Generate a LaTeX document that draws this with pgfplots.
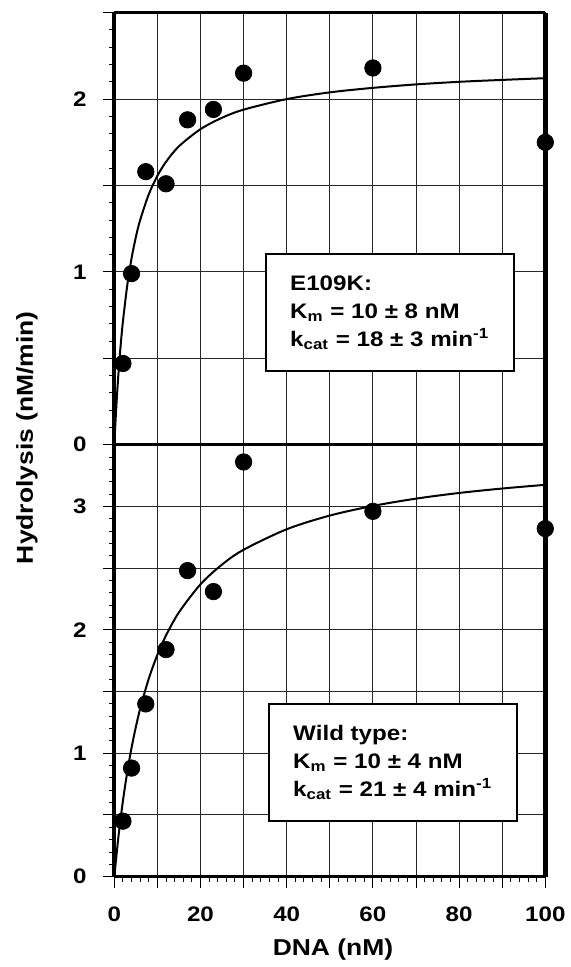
\documentclass[border=0pt]{standalone}
\usepackage{fontspec}
\setmainfont{Liberation Sans}[FakeStretch=1.15]
\usepackage{pgfplots}
\pgfplotsset{compat=1.18}

\pgfplotsset{
  panel/.style={
    width=215.5pt, height=216pt, scale only axis,
    xmin=0, xmax=100,
    xtick={0,10,...,100},
    grid=major,
    major grid style={black!85, line width=0.5pt},
    tick align=outside,
    ytick pos=left,
    xtick pos=bottom,
    major tick length=5.5pt,
    minor tick length=2.5pt,
    tick style={black, line width=0.5pt},
    minor y tick num=4,
    /pgf/number format/assume math mode=true,
    tick label style={font=\fontsize{10.5}{12}\selectfont\bfseries},
    xticklabel style={yshift=-6pt},
    yticklabel style={xshift=-4.8pt},
    clip=false,
  },
  fit/.style={black, line width=1pt, no marks, smooth},
  dots/.style={only marks, mark=*, mark size=4.1pt, black},
}
\tikzset{
  infobox/.style={draw, line width=1pt, fill=white, anchor=north west,
    minimum width=124pt, minimum height=58.5pt, align=left, inner sep=0pt,
    font=\fontsize{10.5}{14}\selectfont\bfseries},
}

\begin{document}
\begin{tikzpicture}
% E109K
\begin{axis}[panel, name=top,
    ymin=0, ymax=2.5,
    ytick={0,0.5,...,2.5}, yticklabels={0,,1,,2,},
    xticklabels={}, xmajorticks=false]
\addplot[fit] coordinates {
  (0,0) (0.5,0.235) (1,0.425) (1.5,0.582) (2,0.713) (3,0.921) (4,1.078)
  (5,1.201) (6,1.300) (8,1.449) (10,1.556) (12,1.637) (15,1.727)
  (20,1.826) (25,1.892) (30,1.939) (40,2.000) (50,2.039) (60,2.065)
  (70,2.085) (80,2.100) (90,2.111) (100,2.121)
};
\addplot[dots] coordinates {
  (2,0.47) (4,0.99) (7.3,1.58) (12,1.51) (17,1.88) (23,1.94)
  (30,2.15) (60,2.18) (100,1.75)
};
\node[infobox] at (axis cs:34.9,1.11)
  {E109K:\\K\textsubscript{m} = 10 ± 8 nM\\k\textsubscript{cat} = 18 ± 3 min\textsuperscript{-1}};
\end{axis}
% wild type
\begin{axis}[panel, name=bot, at={(top.south west)}, anchor=north west,
    ymin=0, ymax=3.5,
    ytick={0,0.5,...,3.5}, yticklabels={0,,1,,2,,3,},
    xticklabels={0,,20,,40,,60,,80,,100},
    minor x tick num=4]
\addplot[fit] coordinates {
  (0,0) (1,0.337) (2,0.614) (3,0.846) (4,1.044) (5,1.213) (6,1.361)
  (8,1.605) (10,1.798) (12,1.955) (15,2.142) (20,2.369) (25,2.529)
  (30,2.649) (40,2.815) (50,2.926) (60,3.004) (70,3.063) (80,3.109)
  (90,3.145) (100,3.175)
};
\addplot[dots] coordinates {
  (2,0.45) (4,0.88) (7.3,1.40) (12,1.84) (17,2.48) (23,2.31)
  (30,3.36) (60,2.96) (100,2.82)
};
\node[infobox] at (axis cs:35.6,1.41)
  {Wild type:\\K\textsubscript{m} = 10 ± 4 nM\\k\textsubscript{cat} = 21 ± 4 min\textsuperscript{-1}};
\end{axis}
% heavy frame
\draw[line width=1.3pt] (top.north west) -- (top.north east);
\draw[line width=1.6pt] (top.south west) -- (top.south east);
\draw[line width=1.6pt] (bot.south west) -- (bot.south east);
\draw[line width=2pt] (top.north west) -- (bot.south west);
\draw[line width=2.4pt] (top.north east) -- (bot.south east);
\node[rotate=90, anchor=base, font=\fontsize{11.5}{14}\selectfont\bfseries]
  at ([xshift=-40.65pt, yshift=3.5pt]top.south west) {Hydrolysis (nM/min)};
\node[anchor=base, font=\fontsize{11.5}{14}\selectfont\bfseries]
  at ([xshift=1.6pt, yshift=-39.15pt]bot.south) {DNA (nM)};
\pgfresetboundingbox
\path[use as bounding box] ([shift={(-57.15pt,-45.15pt)}]bot.south west)
  rectangle ([shift={(12.35pt,6.35pt)}]top.north east);
\end{tikzpicture}
\end{document}
